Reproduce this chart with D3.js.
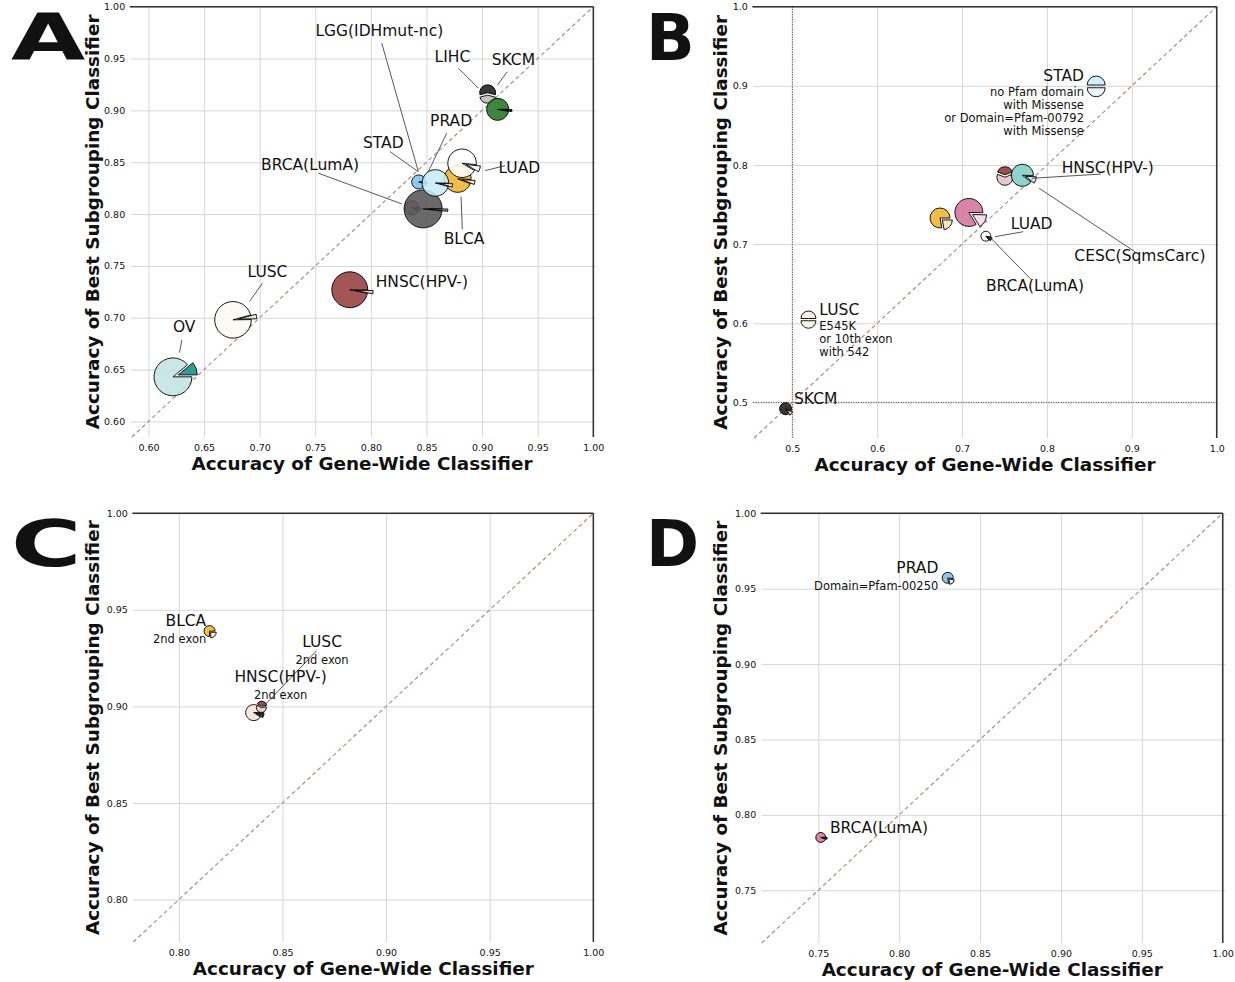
<!DOCTYPE html>
<html>
<head>
<meta charset="utf-8">
<script src="https://cdn.jsdelivr.net/npm/d3@7"></script>
<style>
  body { margin: 0; background: #fff; }
  text { font-family: "DejaVu Sans", sans-serif; fill: #111; }
</style>
</head>
<body>
<svg id="fig" width="1235" height="982"></svg>
<script>
// ---- panel A : all cohorts
var aNames = ["OV","LUSC","HNSC(HPV-)","BRCA(LumA)","LGG(IDHmut-nc)","PRAD","BLCA","STAD","LUAD","SKCM","LIHC"];
var aGene  = [0.622,0.676,0.781,0.837,0.847,0.843,0.878,0.858,0.882,0.905,0.914];
var aBest  = [0.643,0.698,0.727,0.806,0.805,0.831,0.834,0.830,0.849,0.917,0.901];
var aSize  = [900,840,810,122,900,122,456,442,511,160,302];
var aFrac  = [0.11,0.04,0.03,0.06,0.02,0.04,0.05,0.04,0.07,0.42,0.03];
var aTurn  = [20,8,-6,-10,-3,-8,-12,-8,-18,-90,-5];
var aMain  = ["#c3e3e3","#fbf9f3","#963f3f","#d4789f","#555555","#7ec0ea","#efb32e","#c6ecf9","#ffffff","#1e1e1e","#237523"];
var aWedge = ["#249590","#efe5cf","#ecd4d0","#f7d9e6","#9c9c9c","#d9eefa","#f8e2b4","#e9f7fc","#f4f4f4","#bdbdbd","#161616"];
var aLabels = [
  {t:"LGG(IDHmut-nc)", x:0.8076, y:0.9766, from:[0.8098,0.9647], to:[0.8427,0.8409]},
  {t:"LIHC", x:0.8733, y:0.9518, from:[0.8787,0.9406], to:[0.8966,0.9214]},
  {t:"SKCM", x:0.9281, y:0.9486, from:[0.9227,0.9373], to:[0.9137,0.9244]},
  {t:"PRAD", x:0.8721, y:0.8901, from:[0.8682,0.8780], to:[0.8517,0.8410]},
  {t:"STAD", x:0.8112, y:0.8689, from:[0.8173,0.8602], to:[0.8424,0.8410]},
  {t:"BRCA(LumA)", x:0.7453, y:0.8474, from:[0.7528,0.8394], to:[0.8278,0.8098]},
  {t:"LUAD", x:0.9335, y:0.8442, from:[0.9027,0.8419], to:[0.9206,0.8467]},
  {t:"BLCA", x:0.8838, y:0.7761, from:[0.8822,0.7854], to:[0.8811,0.8169]},
  {t:"LUSC", x:0.7070, y:0.7443, from:[0.7025,0.7334], to:[0.6908,0.7157]},
  {t:"OV", x:0.6321, y:0.6910, from:[0.6300,0.6787], to:[0.6279,0.6665]},
  {t:"HNSC(HPV-)", x:0.8458, y:0.7349}
];

// ---- panel B
var bNames = ["SKCM","LUSC","BLCA","BRCA(LumA)","LUAD","HNSC(HPV-)","CESC(SqmsCarc)","STAD"];
var bGene  = [0.492,0.519,0.674,0.708,0.728,0.7505,0.771,0.858];
var bBest  = [0.492,0.606,0.733,0.740,0.710,0.7845,0.787,0.901];
var bSize  = [90,140,250,490,62,160,302,202];
var bFrac  = [0.12,0.5,0.22,0.16,0.12,0.38,0.10,0.5];
var bTurn  = [-40,-90,-40,-30,-30,90,-20,-90];
var bMain  = ["#1e1e1e","#f6eee0","#efb32e","#d4749d","#ffffff","#e0c6c6","#7fcdc8","#c6ecf9"];
var bWedge = ["#cfcfcf","#fbf6ee","#fbe3b6","#f7d9e6","#1e1e1e","#983f3f","#c6e3e6","#e9f7fc"];
var bLabels = [
  {t:"STAD", x:0.8436, y:0.9125, anchor:"end", sub:["no Pfam domain","with Missense","or Domain=Pfam-00792","with Missense"]},
  {t:"HNSC(HPV-)", x:0.8173, y:0.7958, anchor:"start", from:[0.8633,0.7885], to:[0.7827,0.7832]},
  {t:"CESC(SqmsCarc)", x:0.9095, y:0.6850, from:[0.9037,0.6904], to:[0.7909,0.7705]},
  {t:"LUAD", x:0.7820, y:0.7254, from:[0.7721,0.7157], to:[0.7388,0.7094]},
  {t:"BRCA(LumA)", x:0.7859, y:0.6470, from:[0.7820,0.6546], to:[0.7329,0.7086]},
  {t:"LUSC", x:0.5318, y:0.6167, anchor:"start", sub:["E545K","or 10th exon","with 542"]},
  {t:"SKCM", x:0.5020, y:0.5042, anchor:"start"}
];

// ---- panel C
var cNames = ["BLCA","LUSC","HNSC(HPV-)"];
var cGene  = [0.8148,0.8361,0.8398];
var cBest  = [0.9390,0.8968,0.8994];
var cSize  = [76,160,62];
var cFrac  = [0.25,0.10,0.40];
var cTurn  = [-45,-15,80];
var cMain  = ["#efb32e","#f3e8da","#e6cfcb"];
var cWedge = ["#fbefd6","#1e1e1e","#983f3f"];
var cLabels = [
  {t:"BLCA", x:0.8132, y:0.9443, anchor:"end", sub:["2nd exon"]},
  {t:"LUSC", x:0.8691, y:0.9335, sub:["2nd exon"], from:[0.8664,0.9288], to:[0.8414,0.9006]},
  {t:"HNSC(HPV-)", x:0.8491, y:0.9153, sub:["2nd exon"]}
];

// ---- panel D
var dNames = ["PRAD","BRCA(LumA)"];
var dGene  = [0.830,0.7515];
var dBest  = [0.9572,0.785];
var dSize  = [76,62];
var dFrac  = [0.20,0.06];
var dTurn  = [-45,-8];
var dMain  = ["#7ec0ea","#d4749d"];
var dWedge = ["#e8f5fc","#222222"];
var dLabels = [
  {t:"PRAD", x:0.8242, y:0.9635, anchor:"end", sub:["Domain=Pfam-00250"]},
  {t:"BRCA(LumA)", x:0.7572, y:0.7916, anchor:"start"}
];

var ticksA = [0.60,0.65,0.70,0.75,0.80,0.85,0.90,0.95,1.00];
var ticksB = [0.5,0.6,0.7,0.8,0.9,1.0];
var ticksC = [0.80,0.85,0.90,0.95,1.00];
var ticksD = [0.75,0.80,0.85,0.90,0.95,1.00];

var svg = d3.select("#fig");
var rScale = d3.scaleSqrt().domain([0, 1000]).range([0, 20]);
var arc = d3.arc();
var rad = Math.PI / 180;

function drawPie(g, cx, cy, r, frac, turn, main, wedge) {
  var a1 = turn - frac * 180, a2 = turn + frac * 180;
  var pg = g.append("g").attr("transform", "translate(" + cx + "," + cy + ")");
  pg.append("path")
    .attr("d", arc({innerRadius: 0, outerRadius: r, startAngle: (90 - a1) * rad, endAngle: (450 - a2) * rad}))
    .attr("fill", main).attr("fill-opacity", 0.88)
    .attr("stroke", "#000").attr("stroke-width", 1).attr("stroke-opacity", 0.9);
  var e = 0.3 * r;
  pg.append("path")
    .attr("transform", "translate(" + (e * Math.cos(turn * rad)) + "," + (-e * Math.sin(turn * rad)) + ")")
    .attr("d", arc({innerRadius: 0, outerRadius: r, startAngle: (90 - a2) * rad, endAngle: (90 - a1) * rad}))
    .attr("fill", wedge).attr("fill-opacity", 0.92)
    .attr("stroke", "#000").attr("stroke-width", 1).attr("stroke-opacity", 0.9);
}

function drawPanel(p) {
  var g = svg.append("g");
  var x = d3.scaleLinear().domain(p.dom[0]).range([p.left, p.right]);
  var y = d3.scaleLinear().domain(p.dom[1]).range([p.bottom, p.top]);
  var fmt = d3.format(p.fmt);

  // x grid + tick labels
  g.append("g").attr("transform", "translate(0," + p.bottom + ")")
    .call(d3.axisBottom(x).tickValues(p.ticks).tickFormat(fmt)
      .tickSize(-(p.bottom - p.top)).tickPadding(7))
    .call(function(a) {
      a.select(".domain").remove();
      a.selectAll("line").attr("stroke", "#d6d6d6").attr("stroke-width", 1);
      a.selectAll("text").attr("font-size", 9.5).attr("font-family", "DejaVu Sans").attr("fill", "#222");
    });
  // y grid + tick labels
  g.append("g").attr("transform", "translate(" + p.left + ",0)")
    .call(d3.axisLeft(y).tickValues(p.ticks).tickFormat(fmt)
      .tickSize(-(p.right - p.left + 3)).tickPadding(5.5))
    .call(function(a) {
      a.select(".domain").remove();
      a.selectAll("line").attr("stroke", "#d6d6d6").attr("stroke-width", 1);
      a.selectAll("text").attr("font-size", 9.5).attr("font-family", "DejaVu Sans").attr("fill", "#222");
    });

  // dotted chance lines (panel B)
  if (p.chance) {
    g.append("line").attr("x1", x(p.chance)).attr("x2", x(p.chance))
      .attr("y1", p.top).attr("y2", p.bottom)
      .attr("stroke", "#222").attr("stroke-width", 0.9).attr("stroke-dasharray", "1,1.5");
    g.append("line").attr("x1", p.left).attr("x2", p.right)
      .attr("y1", y(p.chance)).attr("y2", y(p.chance))
      .attr("stroke", "#222").attr("stroke-width", 0.9).attr("stroke-dasharray", "1,1.5");
  }

  // diagonal
  var lo = Math.max(p.dom[0][0], p.dom[1][0]);
  g.append("line").attr("x1", x(lo)).attr("y1", y(lo)).attr("x2", x(1)).attr("y2", y(1))
    .attr("stroke", "#b38b8b").attr("stroke-width", 1.2).attr("stroke-dasharray", "4,3");

  // pies
  p.names.forEach(function(n, i) {
    drawPie(g, x(p.gene[i]), y(p.best[i]), rScale(p.size[i]), p.frac[i], p.turn[i], p.main[i], p.wedge[i]);
  });

  // labels and leader lines
  p.labels.forEach(function(l) {
    if (l.from) {
      g.append("line").attr("x1", x(l.from[0])).attr("y1", y(l.from[1]))
        .attr("x2", x(l.to[0])).attr("y2", y(l.to[1]))
        .attr("stroke", "#444").attr("stroke-width", 0.9);
    }
    g.append("text").attr("x", x(l.x)).attr("y", y(l.y))
      .attr("text-anchor", l.anchor || "middle").attr("dominant-baseline", "central")
      .attr("font-size", 15.5).text(l.t);
    (l.sub || []).forEach(function(s, k) {
      g.append("text").attr("x", x(l.x)).attr("y", y(l.y) + p.subGap + k * 13)
        .attr("text-anchor", l.anchor || "middle").attr("dominant-baseline", "central")
        .attr("font-size", 11.5).text(s);
    });
  });

  // spines: top and right only
  g.append("line").attr("x1", p.left - 1).attr("x2", p.right).attr("y1", p.top).attr("y2", p.top)
    .attr("stroke", "#333").attr("stroke-width", 1.5);
  g.append("line").attr("x1", p.right).attr("x2", p.right).attr("y1", p.top).attr("y2", p.bottom)
    .attr("stroke", "#333").attr("stroke-width", 1.5);

  // axis titles
  g.append("text").attr("x", (p.left + p.right) / 2).attr("y", p.bottom + 26.5)
    .attr("text-anchor", "middle").attr("dominant-baseline", "central")
    .attr("font-size", 18.4).attr("font-weight", "bold")
    .text("Accuracy of Gene-Wide Classifier");
  g.append("text")
    .attr("transform", "translate(" + p.ytitleX + "," + ((p.top + p.bottom) / 2) + ") rotate(-90)")
    .attr("text-anchor", "middle").attr("dominant-baseline", "central")
    .attr("font-size", 18.4).attr("font-weight", "bold")
    .text("Accuracy of Best Subgrouping Classifier");

  // panel letter (left column letters are drawn wider in the original)
  svg.append("text")
    .attr("transform", "translate(" + p.letterX + "," + p.letterY + ") scale(" + p.letterStretch + ",1)")
    .attr("font-size", 64).attr("font-weight", "bold").text(p.letter);
}

drawPanel({letter: "A", letterX: 11, letterY: 60, letterStretch: 1.5, left: 130.7, right: 593.3, top: 6.7, bottom: 437,
  dom: [[0.584, 1], [0.585, 1]], ticks: ticksA, fmt: ".2f", ytitleX: 92, subGap: 16,
  names: aNames, gene: aGene, best: aBest, size: aSize, frac: aFrac, turn: aTurn,
  main: aMain, wedge: aWedge, labels: aLabels});
drawPanel({letter: "B", letterX: 646, letterY: 60, letterStretch: 1, left: 753.3, right: 1216.7, top: 6.7, bottom: 438,
  dom: [[0.454, 1], [0.455, 1]], ticks: ticksB, fmt: ".1f", ytitleX: 720, subGap: 16, chance: 0.5,
  names: bNames, gene: bGene, best: bBest, size: bSize, frac: bFrac, turn: bTurn,
  main: bMain, wedge: bWedge, labels: bLabels});
drawPanel({letter: "C", letterX: 11, letterY: 566, letterStretch: 1.5, left: 133.3, right: 593.3, top: 513.3, bottom: 942,
  dom: [[0.778, 1], [0.778, 1]], ticks: ticksC, fmt: ".2f", ytitleX: 92, subGap: 18.5,
  names: cNames, gene: cGene, best: cBest, size: cSize, frac: cFrac, turn: cTurn,
  main: cMain, wedge: cWedge, labels: cLabels});
drawPanel({letter: "D", letterX: 646, letterY: 566, letterStretch: 1, left: 761.7, right: 1222.7, top: 513.3, bottom: 943,
  dom: [[0.715, 1], [0.715, 1]], ticks: ticksD, fmt: ".2f", ytitleX: 720, subGap: 17.4,
  names: dNames, gene: dGene, best: dBest, size: dSize, frac: dFrac, turn: dTurn,
  main: dMain, wedge: dWedge, labels: dLabels});
</script>
</body>
</html>
